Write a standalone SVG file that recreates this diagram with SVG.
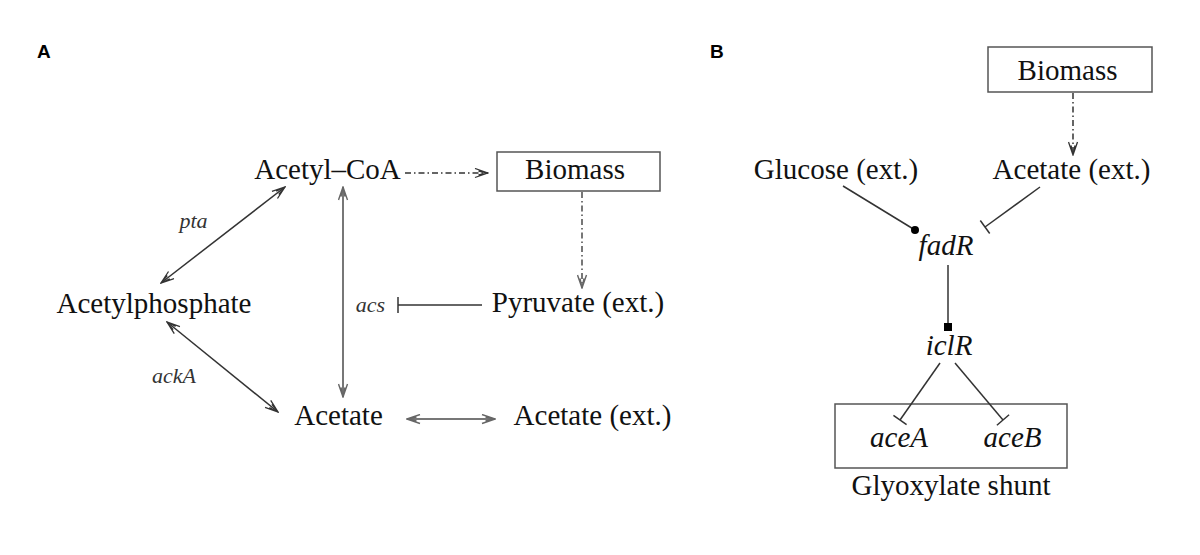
<svg xmlns="http://www.w3.org/2000/svg" width="1200" height="555" viewBox="0 0 1200 555">
<style>
.t{font-family:"Liberation Serif","Times New Roman",serif;font-size:29px;fill:#111;text-anchor:middle}
.i{font-style:italic}
.s{font-family:"Liberation Serif","Times New Roman",serif;font-size:22px;font-style:italic;fill:#333;text-anchor:middle}
.p{font-family:"Liberation Sans",Arial,sans-serif;font-size:19px;font-weight:bold;fill:#000}
.box{fill:none;stroke:#555;stroke-width:1.5}
.ln{fill:none;stroke:#333;stroke-width:1.5}
.gr{fill:none;stroke:#777;stroke-width:2}
.dd{stroke-dasharray:6 3 1.5 3}
</style>
<defs>
<marker id="ah" viewBox="0 0 15 11" refX="14" refY="5.5" markerWidth="15" markerHeight="11" markerUnits="userSpaceOnUse" orient="auto-start-reverse">
<path d="M1,1 L14,5.5 L1,10 M4.5,3.5 L14,5.5 L4.5,7.5" fill="none" stroke="#333" stroke-width="1.3"/>
</marker>
<marker id="ahg" viewBox="0 0 15 11" refX="14" refY="5.5" markerWidth="15" markerHeight="11" markerUnits="userSpaceOnUse" orient="auto-start-reverse">
<path d="M1,1 L14,5.5 L1,10 M4.5,3.5 L14,5.5 L4.5,7.5" fill="none" stroke="#666" stroke-width="1.4"/>
</marker>
</defs>
<rect width="1200" height="555" fill="#fff"/>
<text class="p" x="37" y="58">A</text>
<text class="p" x="710" y="58">B</text>
<g id="acetylcoa"><text class="t" x="327.5" y="179">Acetyl–CoA</text></g>
<g id="biomassA"><rect class="box" x="497" y="152" width="163" height="39"/><text class="t" x="575" y="179">Biomass</text></g>
<g id="acetylphosphate"><text class="t" x="154" y="313">Acetylphosphate</text></g>
<g id="pyruvate"><text class="t" x="578" y="312">Pyruvate (ext.)</text></g>
<g id="acetate"><text class="t" x="338.5" y="425">Acetate</text></g>
<g id="acetateextA"><text class="t" x="592.5" y="425">Acetate (ext.)</text></g>
<g id="labels"><text class="s" x="193.5" y="228">pta</text><text class="s" x="174" y="383">ackA</text><text class="s" x="370.5" y="312">acs</text></g>
<g id="biomassB"><rect class="box" x="988" y="47" width="164" height="45"/><text class="t" x="1067.5" y="80">Biomass</text></g>
<g id="glucose"><text class="t" x="836" y="179">Glucose (ext.)</text></g>
<g id="acetateextB"><text class="t" x="1071.5" y="179">Acetate (ext.)</text></g>
<g id="fadR"><text class="t i" x="946" y="255">fadR</text></g>
<g id="iclR"><text class="t i" x="949" y="355">iclR</text></g>
<g id="glyoxylate"><rect class="box" x="835" y="404" width="232" height="64"/><text class="t i" x="899" y="447">aceA</text><text class="t i" x="1012.5" y="447">aceB</text><text class="t" x="951" y="495">Glyoxylate shunt</text></g>
<g id="connectors">
<line class="ln" x1="285" y1="187" x2="161" y2="283" marker-start="url(#ah)" marker-end="url(#ah)"/>
<line class="ln" x1="167" y1="322" x2="278" y2="412" marker-start="url(#ah)" marker-end="url(#ah)"/>
<line class="gr" x1="343" y1="187" x2="343" y2="397" marker-start="url(#ahg)" marker-end="url(#ahg)"/>
<line class="gr" x1="407" y1="419" x2="495" y2="419" marker-start="url(#ahg)" marker-end="url(#ahg)"/>
<line class="ln dd" x1="405" y1="173" x2="488" y2="173" marker-end="url(#ah)"/>
<line class="gr dd" x1="582" y1="192" x2="582" y2="288" marker-end="url(#ahg)"/>
<line class="ln" x1="398" y1="305" x2="482" y2="305"/>
<line class="ln" x1="398" y1="297" x2="398" y2="313"/>
<line class="ln dd" x1="1073" y1="93" x2="1073" y2="155" marker-end="url(#ah)"/>
<line class="ln" x1="843" y1="186" x2="915" y2="230"/>
<circle cx="915" cy="230" r="4" fill="#000"/>
<line class="ln" x1="1040" y1="187" x2="985" y2="227"/>
<line class="ln" x1="980.3" y1="220.5" x2="989.7" y2="233.5"/>
<line class="ln" x1="948" y1="265" x2="948" y2="324"/>
<rect x="944" y="323" width="8" height="8" fill="#000"/>
<line class="ln" x1="940" y1="363" x2="900" y2="420"/>
<line class="ln" x1="893.4" y1="415.4" x2="906.6" y2="424.6"/>
<line class="ln" x1="955" y1="363" x2="1003" y2="420"/>
<line class="ln" x1="996.9" y1="425.2" x2="1009.1" y2="414.8"/>
</g>
</svg>
